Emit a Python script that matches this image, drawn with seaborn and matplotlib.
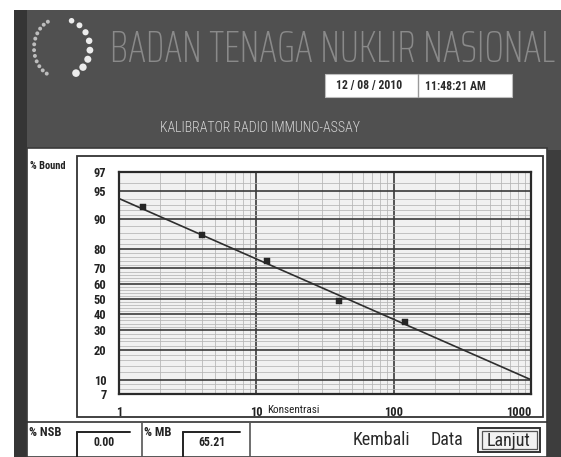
import numpy as np
import pandas as pd
import matplotlib
matplotlib.use("Agg")
import matplotlib.pyplot as plt
from matplotlib.patches import Rectangle
from matplotlib.ticker import FixedLocator, NullFormatter
import seaborn as sns

# Calibration standards: concentration vs. percent bound
konsentrasi = [1.5, 4.0, 12.0, 40.0, 120.0]
persen_bound = [92.6, 85.2, 74.2, 48.6, 35.2]

# Logit-log fitted calibration line, end points across the axis range
garis_konsentrasi = [1.0, 1000.0]
garis_bound = [94.0, 10.0]

y_ticks = [97, 95, 90, 80, 70, 60, 50, 40, 30, 20, 10, 7]
y_minor = [8, 9, 12, 14, 16, 18, 22, 24, 26, 28, 32, 34, 36, 38, 42, 44, 46,
           48, 52, 54, 56, 58, 62, 64, 66, 68, 72, 74, 76, 78, 82, 84, 86,
           88, 91, 92, 93, 94, 96]
x_ticks = [1, 10, 100, 1000]
x_tick_labels = ["1", "10", "100", "1000"]
x_minor = [m * d for d in (1, 10, 100) for m in range(2, 10)]

judul = "BADAN TENAGA NUKLIR NASIONAL"
subjudul = "KALIBRATOR RADIO IMMUNO-ASSAY"
tanggal = "12 / 08 / 2010"
jam = "11:48:21 AM"
nsb_value = "0.00"
mb_value = "65.21"

W, H = 561, 457
NARROW = ["Roboto Condensed", "DejaVu Sans"]
XNARROW = ["Saira ExtraCondensed", "Roboto Condensed", "DejaVu Sans"]

sns.set_style("white")
plt.rcParams["font.family"] = NARROW

fig = plt.figure(figsize=(W / 100, H / 100), dpi=100)
fig.patch.set_facecolor("white")

# Window chrome drawn in pixel coordinates
bg = fig.add_axes([0, 0, 1, 1])
bg.set_xlim(0, W)
bg.set_ylim(H, 0)
bg.axis("off")


def box(x0, y0, x1, y1, **kw):
    bg.add_patch(Rectangle((x0, y0), x1 - x0, y1 - y0, **kw))


box(14, 10, W, H, facecolor="#505050", edgecolor="none")
box(14, 10, 27, H, facecolor="#353535", edgecolor="none")
box(547, 150, W, H, facecolor="#3d3d3d", edgecolor="none")
box(27, 148, 547, H, facecolor="white", edgecolor="#3a3a3a", lw=1.2)

# Emblem: ring of dots
cx, cy, rx, ry = 62, 48, 28, 29
ang_r = np.radians(np.linspace(-70, 60, 8))
bg.scatter(cx + rx * np.cos(ang_r), cy + ry * np.sin(ang_r),
           s=np.linspace(16, 30, 8), color="#ececec", edgecolor="none",
           zorder=3)
ang_l = np.radians(np.linspace(118, 245, 12))
bg.scatter(cx - 4 + (rx - 4) * np.cos(ang_l), cy + ry * np.sin(ang_l), s=8,
           color="#bdbdbd", edgecolor="none", zorder=3)

# Header title, sized to fill its band
title = bg.text(110, 62, judul, ha="left", va="baseline", fontsize=30,
                family=XNARROW, fontweight="light", color="#8a8a8a")
fig.canvas.draw()
tw = title.get_window_extent().width
title.set_fontsize(30 * 447 / tw)

# Date / time fields
box(325, 74, 512, 97, facecolor="white", edgecolor="#bdbdbd", lw=0.8)
bg.plot([418, 418], [74, 97], color="#9a9a9a", lw=1)
bg.text(369, 86, tanggal, ha="center", va="center", fontsize=8.5,
        fontweight="bold", color="#2a2a2a")
bg.text(455, 86, jam, ha="center", va="center", fontsize=8.5,
        fontweight="bold", color="#2a2a2a")

bg.text(260, 128, subjudul, ha="center", va="center", fontsize=10,
        fontweight="light", color="#d6d6d6")

# Chart panel frame
box(77, 156, 543, 417, facecolor="none", edgecolor="#333333", lw=1.3)

# Bottom status bar
bg.plot([27, 547], [422, 422], color="#333333", lw=1.2)
for xv in (142, 250):
    bg.plot([xv, xv], [422, H], color="#555555", lw=1.2)
bg.text(29, 433, "% NSB", ha="left", va="center", fontsize=9,
        fontweight="bold", color="#222222")
bg.text(144, 433, "% MB", ha="left", va="center", fontsize=9,
        fontweight="bold", color="#222222")
for x0, x1, val in ((77, 130, nsb_value), (183, 240, mb_value)):
    bg.plot([x0, x1], [432, 432], color="#222222", lw=1.4)
    bg.plot([x0, x0], [432, H], color="#222222", lw=1.4)
    bg.text((x0 + x1) / 2 + 0.5, 443, val, ha="center", va="center",
            fontsize=8.5, fontweight="bold", color="#222222")

bg.text(381, 440, "Kembali", ha="center", va="center", fontsize=13,
        color="#2a2a2a")
bg.text(447, 440, "Data", ha="center", va="center", fontsize=13,
        color="#2a2a2a")
box(478, 428, 540, 452, facecolor="#f2f2f2", edgecolor="#333333", lw=1.4)
box(482, 431, 537, 449, facecolor="none", edgecolor="#555555", lw=0.9)
bg.text(509, 441, "Lanjut", ha="center", va="center", fontsize=13,
        color="#2a2a2a")

# Calibration chart
ax = fig.add_axes([119 / W, 1 - 394 / H, 412 / W, 222 / H])
ax.set_facecolor("#f1f1f1")

df_std = pd.DataFrame({"Konsentrasi": konsentrasi,
                       "% Bound": [v / 100 for v in persen_bound]})
df_fit = pd.DataFrame({"Konsentrasi": garis_konsentrasi,
                       "% Bound": [v / 100 for v in garis_bound]})

sns.lineplot(data=df_fit, x="Konsentrasi", y="% Bound", ax=ax,
             color="#2e2e2e", lw=1.2, zorder=4)
sns.scatterplot(data=df_std, x="Konsentrasi", y="% Bound", ax=ax,
                marker="s", s=16, color="#262626", edgecolor="#262626",
                zorder=5)

ax.set_xscale("log")
ax.set_yscale("logit")
ax.set_xlim(1, 1000)
ax.set_ylim(0.07, 0.97)

ax.set_yticks([v / 100 for v in y_ticks], [str(v) for v in y_ticks],
              fontsize=9, fontweight="bold", color="#222222")
ax.yaxis.set_minor_locator(FixedLocator([v / 100 for v in y_minor]))
ax.yaxis.set_minor_formatter(NullFormatter())
ax.set_xticks(x_ticks, x_tick_labels, fontsize=9, fontweight="bold",
              color="#222222")
ax.xaxis.set_minor_locator(FixedLocator(x_minor))
ax.xaxis.set_minor_formatter(NullFormatter())
# keep the last concentration label inside the panel frame
ax.get_xticklabels()[-1].set_ha("right")

ax.grid(which="major", color="#3a3a3a", lw=1.2)
ax.grid(which="minor", color="#b4b4b4", lw=0.55)
ax.set_axisbelow(True)
ax.tick_params(which="major", direction="out", length=7, width=1.2,
               color="#2a2a2a", pad=2)
ax.tick_params(which="minor", length=0)
for sp in ax.spines.values():
    sp.set_visible(True)
    sp.set_color("#2a2a2a")
    sp.set_linewidth(1.6)

ax.set_xlabel("Konsentrasi", fontsize=8, color="#222222")
ax.xaxis.set_label_coords(0.422, -0.072)
ax.xaxis.label.set_va("center")
ax.set_ylabel("% Bound", rotation=0, fontsize=7.5, fontweight="bold",
              color="#222222")
ax.yaxis.set_label_coords(-0.172, 1.027)
ax.yaxis.label.set_va("center")
ax.yaxis.label.set_ha("center")

fig.savefig("out.png", dpi=100)
